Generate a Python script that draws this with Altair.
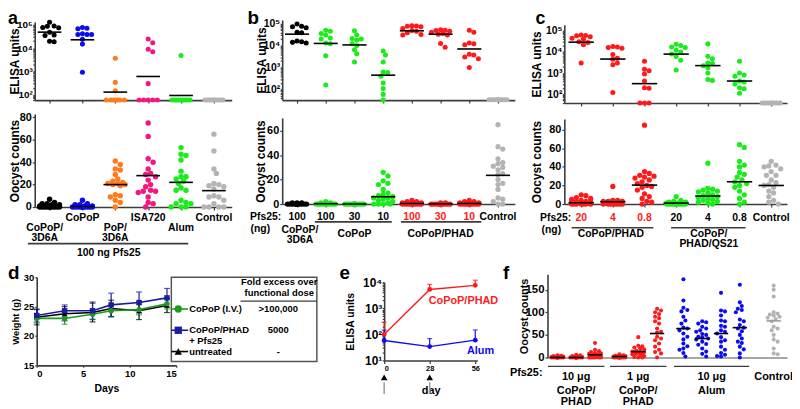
import math
import altair as alt
import pandas as pd

FONT = "Liberation Sans"
BLACK = "#000000"
BLUE = "#0c0cf0"
ORANGE = "#ff7b1c"
PINK = "#f2167e"
GREEN = "#1aeb1a"
GRAY = "#b3b3b3"
RED = "#ff1a1a"
D_GREEN = "#1f9a1f"
D_BLUE = "#1c1ca0"
AXC = "#3c3c3c"

# ---------------- panel a ----------------
A_XLABELS = ["CoPoP/\n3D6A", "CoPoP", "PoP/\n3D6A", "ISA720", "Alum", "Control"]
A_COLORS = [BLACK, BLUE, ORANGE, PINK, GREEN, GRAY]
A_ELISA = [
    [130000, 90000, 88000, 77000, 75000, 48000, 37000, 35000, 20000, 19000],
    [77000, 72000, 68000, 42000, 39000, 39000, 39000, 24000, 15000, 930],
    [3700, 340, 150, 59, 59, 59, 59, 59, 59, 59],
    [25000, 17000, 9000, 7000, 300, 59, 59, 59, 59, 59],
    [4900, 59, 59, 59, 59, 59, 59, 59, 59, 59],
    [59, 59, 59, 59, 59, 59, 59, 59, 59, 59],
]
A_ELISA_MEAN = [49000, 23000, 130, 610, 93, None]
A_OOCYST = [
    [7, 4, 3, 3, 2, 2, 1, 1, 1, 1, 0, 0, 0, 0, 0, 0, 0, 0, 0, 0],
    [6, 3, 2, 2, 1, 1, 1, 0, 0, 0, 0, 0, 0, 0, 0, 0, 0, 0, 0, 0],
    [41, 38, 34, 33, 29, 25, 23, 22, 21, 21, 20, 20, 19, 11, 10, 9, 6, 4, 0],
    [75, 63, 43, 40, 34, 30, 29, 27, 24, 20, 18, 15, 14, 14, 13, 9, 4, 3, 0],
    [53, 47, 46, 42, 32, 27, 27, 25, 23, 21, 17, 15, 15, 6, 4, 3, 3, 0, 0, 0],
    [65, 50, 34, 30, 21, 20, 19, 18, 16, 10, 9, 9, 6, 3, 0, 0, 0, 0],
]
A_OOCYST_MEAN = [1, 0.5, 20, 28, 22, 14.6]
A_FOOTER = "100 ng Pfs25"

# ---------------- panel b ----------------
B_DOSES = ["100", "100", "30", "10", "100", "30", "10", "Control"]
B_DOSE_COLORS = [BLACK, BLACK, BLACK, BLACK, RED, RED, RED, BLACK]
B_COLORS = [BLACK, GREEN, GREEN, GREEN, RED, RED, RED, GRAY]
B_ELISA = [
    [95000, 75000, 72000, 65000, 40000, 38000, 16000, 15000, 14000, 13000],
    [50000, 45000, 35000, 30000, 22000, 20000, 13000, 12000, 3400, 160],
    [47000, 30000, 21000, 20000, 18000, 12000, 10000, 6500, 4200, 1800],
    [5700, 3700, 1800, 630, 600, 400, 200, 110, 60, 33],
    [80000, 78000, 75000, 72000, 60000, 48000, 45000, 38000, 32000, 30000],
    [52000, 50000, 48000, 45000, 40000, 35000, 33000, 30000, 12500, 8300],
    [50000, 40000, 13000, 12000, 11000, 4000, 3700, 3000, 2500, 1000],
    [34, 34, 34, 34, 34, 34, 34, 34, 34, 34],
]
B_ELISA_MEAN = [33000, 12500, 10700, 450, 47000, 33000, 7000, None]
B_OOCYST = [
    [1, 1, 1, 0, 0, 0, 0, 0, 0, 0, 0, 0, 0, 0, 0, 0, 0, 0, 0, 0],
    [2, 1, 1, 0, 0, 0, 0, 0, 0, 0, 0, 0, 0, 0, 0, 0, 0, 0, 0, 0],
    [0, 0, 0, 0, 0, 0, 0, 0, 0, 0, 0, 0, 0, 0, 0, 0, 0, 0, 0, 0],
    [26, 23, 19, 17, 16, 12, 9, 8, 7, 6, 5, 5, 4, 3, 2, 1, 0, 0, 0, 0],
    [3, 2, 2, 1, 1, 1, 0, 0, 0, 0, 0, 0, 0, 0, 0, 0, 0, 0, 0, 0],
    [1, 1, 0, 0, 0, 0, 0, 0, 0, 0, 0, 0, 0, 0, 0, 0, 0, 0, 0, 0],
    [3, 2, 2, 1, 1, 0, 0, 0, 0, 0, 0, 0, 0, 0, 0, 0, 0, 0, 0, 0],
    [65, 47, 45, 37, 34, 33, 31, 30, 28, 25, 24, 20, 17, 16, 12, 5, 4, 2, 0, 0],
]
B_OOCYST_MEAN = [0.2, 0.3, 0, 6, 0.5, 0.2, 0.5, 23.5]

# ---------------- panel c ----------------
C_DOSES = ["20", "4", "0.8", "20", "4", "0.8", "Control"]
C_DOSE_COLORS = [RED, RED, RED, BLACK, BLACK, BLACK, BLACK]
C_COLORS = [RED, RED, RED, GREEN, GREEN, GREEN, GRAY]
C_ELISA = [
    [63000, 60000, 58000, 52000, 44000, 40000, 30000, 28000, 22000, 3000],
    [18000, 17000, 16000, 15000, 7500, 5000, 4500, 3000, 2500, 120],
    [3600, 1500, 1300, 900, 420, 200, 190, 38, 38, 38],
    [23000, 20000, 17000, 16000, 12000, 10000, 8000, 6000, 4000, 1400],
    [24000, 6200, 4800, 3000, 2800, 2200, 1800, 1000, 500, 450],
    [3600, 1000, 800, 700, 420, 380, 300, 200, 180, 110],
    [38, 38, 38, 38, 38, 38, 38, 38, 38, 38],
]
C_ELISA_MEAN = [29000, 4600, 316, 7900, 2250, 420, None]
C_OOCYST = [
    [10, 9, 7, 6, 5, 4, 3, 3, 2, 2, 1, 1, 1, 0, 0, 0, 0, 0, 0, 0],
    [19, 4, 4, 3, 3, 3, 2, 2, 2, 1, 1, 1, 0, 0, 0, 0, 0, 0, 0, 0],
    [85, 35, 33, 31, 30, 29, 28, 26, 24, 22, 20, 19, 18, 15, 11, 8, 6, 3, 2, 0],
    [8, 4, 3, 2, 2, 1, 1, 1, 0, 0, 0, 0, 0, 0, 0, 0, 0, 0, 0, 0],
    [44, 17, 16, 15, 14, 13, 12, 10, 9, 8, 7, 6, 5, 4, 3, 2, 1, 0],
    [64, 61, 46, 42, 40, 34, 32, 29, 26, 24, 22, 20, 18, 14, 10, 6, 2, 0],
    [46, 42, 41, 40, 38, 35, 31, 31, 26, 23, 21, 20, 18, 14, 12, 8, 4, 2, 0],
]
C_OOCYST_MEAN = [1.4, 2.5, 20.4, 1, 8.6, 24, 20]

# ---------------- panel d ----------------
D_DAYS = [0, 3, 6, 8, 11, 14]
D_NAMES = ["untreated", "CoPoP (I.V.)", "CoPoP/PHAD\n+ Pfs25"]
D_FOLD = ["-", ">100,000", "5000"]
D_COLORS = [BLACK, D_GREEN, D_BLUE]
D_SHAPES = ["triangle-up", "circle", "square"]
D_MEAN = [
    [23.2, 23.8, 24.0, 24.7, 24.3, 25.2],
    [23.0, 23.0, 23.7, 24.3, 24.5, 25.5],
    [23.5, 24.3, 24.3, 25.3, 25.7, 26.5],
]
D_SD = [
    [1.3, 1.2, 1.6, 1.4, 1.5, 1.2],
    [0.8, 1.0, 0.8, 1.0, 0.9, 0.9],
    [1.1, 1.0, 1.5, 2.0, 1.8, 1.6],
]
D_LEGEND_ORDER = [1, 2, 0]
D_HEADER = "Fold excess over\nfunctional dose"

# ---------------- panel e ----------------
E_DAYS = [0, 28, 56]
E_NAMES = ["CoPoP/PHAD", "Alum"]
E_COLORS = [RED, BLUE]
E_MEAN = [[100, 5300, 7600], [58, 34, 60]]
E_UPPER = [[290, 8300, 12000], [145, 69, 148]]
E_IMMUNIZATIONS = [0, 28]

# ---------------- panel f ----------------
F_CLUSTER = [0, 0, 0, 1, 1, 1, 2, 2, 2, 2, 3]
F_COLORS = [RED, RED, RED, RED, RED, RED, BLUE, BLUE, BLUE, BLUE, GRAY]
F_DOSE = ["10 μg", "1 μg", "10 μg", "Control"]
F_VACCINE = ["CoPoP/\nPHAD", "CoPoP/\nPHAD", "Alum", ""]
F_OOCYST = [
    [5, 4, 3, 2, 2, 1, 1, 1, 0, 0, 0, 0, 0, 0, 0, 0, 0, 0, 0, 0],
    [6, 5, 3, 2, 1, 1, 0, 0, 0, 0, 0, 0, 0, 0, 0, 0, 0, 0, 0, 0],
    [32, 17, 14, 12, 10, 9, 8, 7, 6, 5, 4, 3, 2, 1, 0, 0, 0, 0, 0, 0],
    [7, 5, 4, 3, 3, 2, 2, 1, 1, 0, 0, 0, 0, 0, 0, 0, 0, 0, 0, 0],
    [45, 26, 25, 22, 20, 18, 15, 13, 13, 12, 11, 10, 9, 8, 7, 5, 3, 1, 0, 0],
    [108, 104, 100, 96, 90, 87, 80, 75, 64, 57, 55, 46, 42, 38, 31, 24, 17, 12, 9, 0],
    [173, 126, 110, 105, 102, 90, 82, 75, 66, 64, 60, 53, 46, 40, 31, 25, 20, 17, 10, 2],
    [80, 78, 75, 68, 64, 60, 57, 52, 50, 46, 44, 42, 40, 35, 30, 28, 20, 13, 8, 2],
    [143, 104, 102, 93, 82, 80, 70, 68, 60, 57, 53, 45, 38, 35, 24, 17, 10, 6, 3, 2],
    [161, 122, 114, 108, 105, 100, 84, 80, 72, 66, 64, 58, 50, 42, 35, 32, 24, 18, 9, 0],
    [159, 150, 135, 100, 97, 95, 93, 90, 88, 85, 80, 68, 64, 60, 50, 40, 35, 20, 9, 7],
]
F_MEAN = [0, 0, 6, 2, 13, 53, 64, 42, 53, 66, 81]

# ================= geometry (page pixels) =================
OX, OY = 8, 8          # page margin = chart origin
W, H = 792, 401        # whole drawing area


def cx(p):
    return p - OX


def cy(p):
    return p - OY


# ================= helpers =================
def swarm(ys, d, maxw):
    n = len(ys)
    order = sorted(range(n), key=lambda i: (ys[i], i))
    step = d / 2.0
    cands = [0.0]
    k = 1
    while k * step <= maxw + 1e-9:
        cands += [k * step, -k * step]
        k += 1
    placed, offs = [], [0.0] * n
    for i in order:
        y = ys[i]
        best = None
        for c in cands:
            if all((c - px) ** 2 + (y - py) ** 2 >= d * d - 1e-9 for px, py in placed):
                best = c
                break
        if best is None:
            best = max(cands, key=lambda c: min((c - px) ** 2 + (y - py) ** 2 for px, py in placed))
        placed.append((best, y))
        offs[i] = best
    return offs


def ypix(dom, top, bottom, log):
    h = bottom - top
    if log:
        a, b = math.log10(dom[0]), math.log10(dom[1])
        return lambda v: h * (1 - (math.log10(v) - a) / (b - a))
    return lambda v: h * (1 - (v - dom[0]) / (dom[1] - dom[0]))


def xscale(dom, p0, p1):
    return alt.Scale(domain=list(dom), range=[cx(p0), cx(p1)], nice=False, zero=False)


def yscale(dom, top, bottom, log=False):
    if log:
        return alt.Scale(type="log", domain=list(dom), range=[cy(bottom), cy(top)], nice=False)
    return alt.Scale(domain=list(dom), range=[cy(bottom), cy(top)], nice=False, zero=False)


LOG_LABEL = (
    "abs(log(datum.value)/LN10 - round(log(datum.value)/LN10)) > 0.01 ? '' : "
    "'10' + (round(log(datum.value)/LN10) == 1 ? '¹' : round(log(datum.value)/LN10) == 2 ? '²' : "
    "round(log(datum.value)/LN10) == 3 ? '³' : round(log(datum.value)/LN10) == 4 ? '⁴' : '⁵')"
)


def log_yaxis(dom, title, tsize, tx, xpage, lsize=10.5):
    vals = []
    for k in range(0, 6):
        for m in range(1, 10):
            v = m * 10 ** k
            if dom[0] * 0.999 <= v <= dom[1] * 1.001:
                vals.append(v)
    return alt.Axis(orient="left", offset=-cx(xpage), values=vals, labelExpr=LOG_LABEL,
                    labelOverlap=False, tickSize=2, labelPadding=0.5, labelFontSize=lsize,
                    title=title, titleFontSize=tsize, titleX=tx, grid=False)


def lin_yaxis(vals, title, tsize, tx, xpage, lsize=11):
    return alt.Axis(orient="left", offset=-cx(xpage), values=vals, tickSize=2.5, labelPadding=1,
                    labelFontSize=lsize, title=title, titleFontSize=tsize, titleX=tx, grid=False,
                    labelOverlap=False)


def tick_xaxis(vals, ypage):
    return alt.Axis(orient="bottom", offset=cy(ypage) - H, values=list(vals), labels=False,
                    title=None, tickSize=3, grid=False)


def plain_xaxis(ypage):
    return alt.Axis(orient="bottom", offset=cy(ypage) - H, labels=False, ticks=False, title=None,
                    grid=False, domainColor="#8a8a8a")


def dot_layers(positions, groups, colors, means, half, xdom, xp, ydom, yp, log, size, dcol, maxw,
               yaxis, xaxis, mean_colors=None):
    pxu = (xp[1] - xp[0]) / (xdom[1] - xdom[0])
    yf = ypix(ydom, yp[0], yp[1], log)
    rows = []
    for p, vals, col in zip(positions, groups, colors):
        offs = swarm([yf(v) for v in vals], dcol, maxw)
        for v, o in zip(vals, offs):
            rows.append({"x": p + o / pxu, "v": v, "c": col})
    pdf = pd.DataFrame(rows)
    mc = mean_colors if mean_colors else [BLACK for _ in positions]
    ldf = pd.DataFrame([{"x1": p - half, "x2": p + half, "v": m, "lc": c}
                        for p, m, c in zip(positions, means, mc) if m is not None])
    xs = xscale(xdom, xp[0], xp[1])
    ys = yscale(ydom, yp[0], yp[1], log)
    pts = alt.Chart(pdf).mark_circle(size=size, opacity=1).encode(
        x=alt.X("x:Q", scale=xs, axis=xaxis),
        y=alt.Y("v:Q", scale=ys, axis=yaxis),
        color=alt.Color("c:N", scale=None))
    rl = alt.Chart(ldf).mark_rule(strokeWidth=1.6).encode(
        x="x1:Q", x2="x2:Q", y="v:Q", color=alt.Color("lc:N", scale=None))
    return [pts, rl]


def text_layer(xs, texts, colors, ypage, size, align="center", baseline="middle", dx=0):
    df = pd.DataFrame({"x": xs, "t": texts, "c": colors})
    return alt.Chart(df).mark_text(font=FONT, fontWeight="bold", fontSize=size, align=align,
                                   baseline=baseline, lineBreak="\n", lineHeight=size, dx=dx).encode(
        x="x:Q", y=alt.value(cy(ypage)), text="t:N", color=alt.Color("c:N", scale=None))


def rule_layer(x1s, x2s, ypage, color=AXC, width=1.6):
    df = pd.DataFrame({"x1": x1s, "x2": x2s})
    return alt.Chart(df).mark_rule(color=color, strokeWidth=width).encode(
        x="x1:Q", x2="x2:Q", y=alt.value(cy(ypage)))


def letter(ch, xpage, ypage, size=19):
    return alt.Chart(pd.DataFrame({"t": [ch]})).mark_text(
        font=FONT, fontWeight="bold", fontSize=size, align="left", baseline="alphabetic").encode(
        x=alt.value(cx(xpage)), y=alt.value(cy(ypage)), text="t:N")


def blacks(n):
    return [BLACK for _ in range(n)]


# ================= panel a =================
A_XP = (35, 234)
A_XDOM = [(35 - 50) / 33.2, (234 - 50) / 33.2]
A_EL_YP, A_EL_DOM = (20, 99), [10 ** 1.77, 10 ** 5.13]
A_OO_YP, A_OO_DOM = (113, 207), [0, 83]
pos_a = list(range(len(A_XLABELS)))
stagger = [1, 0, 1, 0, 1, 0]

a_el = alt.layer(*dot_layers(
    pos_a, A_ELISA, A_COLORS, A_ELISA_MEAN, 0.36, A_XDOM, A_XP, A_EL_DOM, A_EL_YP, True, 26, 4.6, 11,
    log_yaxis(A_EL_DOM, "ELISA units", 12, -13.5, A_XP[0], lsize=10), tick_xaxis(pos_a, A_EL_YP[1])))
a_oo = alt.layer(
    *dot_layers(pos_a, A_OOCYST, A_COLORS, A_OOCYST_MEAN, 0.36, A_XDOM, A_XP, A_OO_DOM, A_OO_YP, False,
                30, 5, 12, lin_yaxis([0, 20, 40, 60, 80], "Oocyst counts", 12, -13.5, A_XP[0]),
                tick_xaxis(pos_a, A_OO_YP[1])),
    text_layer([p for p, s in zip(pos_a, stagger) if s == 0],
               [t for t, s in zip(A_XLABELS, stagger) if s == 0], blacks(3), 212.75, 10.5, baseline="top"),
    text_layer([p - 0.15 * (p == 0) for p, s in zip(pos_a, stagger) if s == 1],
               [t for t, s in zip(A_XLABELS, stagger) if s == 1], blacks(3), 222.75, 10.5, baseline="top"),
    rule_layer([-0.66], [4.22], 244),
    text_layer([1.8], [A_FOOTER], blacks(1), 253, 10.5),
)

# ================= panel b =================
B_XP = (285, 520)
B_XDOM = [(285 - 300) / 29.0, (520 - 300) / 29.0]
B_EL_YP, B_EL_DOM = (18, 99), [10 ** 1.518, 10 ** 5.167]
B_OO_YP, B_OO_DOM = (117, 204), [0, 70.5]
pos_b = list(range(len(B_DOSES)))

b_el = alt.layer(*dot_layers(
    pos_b, B_ELISA, B_COLORS, B_ELISA_MEAN, 0.42, B_XDOM, B_XP, B_EL_DOM, B_EL_YP, True, 26, 4.6, 10.5,
    log_yaxis(B_EL_DOM, "ELISA units", 12, -14, B_XP[0]), tick_xaxis(pos_b, B_EL_YP[1])))
b_oo = alt.layer(
    *dot_layers(pos_b, B_OOCYST, B_COLORS, B_OOCYST_MEAN, 0.42, B_XDOM, B_XP, B_OO_DOM, B_OO_YP, False,
                28, 4.8, 10.5, lin_yaxis([0, 20, 40, 60], "Oocyst counts", 12, -15, B_XP[0]),
                tick_xaxis(pos_b, B_OO_YP[1])),
    text_layer(pos_b, B_DOSES, B_DOSE_COLORS, 217, 10.5),
    text_layer([B_XDOM[0]], ["Pfs25:"], blacks(1), 217, 10.5, align="right", dx=-1),
    text_layer([(253 - 300) / 29.0], ["(ng)"], blacks(1), 229, 10.5, align="left"),
    rule_layer([1 - 0.38, 4 - 0.38], [3 + 0.3, 6 + 0.42], 222),
    text_layer([0.1], ["CoPoP/\n3D6A"], blacks(1), 224.75, 10.5, baseline="top"),
    text_layer([2, 5], ["CoPoP", "CoPoP/PHAD"], blacks(2), 234, 10.5),
)

# ================= panel c =================
C_XP = (570, 795)
C_XDOM = [(570 - 587) / 32.0, (795 - 587) / 32.0]
C_EL_YP, C_EL_DOM = (23, 102), [10 ** 1.58, 10 ** 5.28]
C_OO_YP, C_OO_DOM = (118, 204), [0, 91.7]
pos_c = list(range(len(C_DOSES)))

c_el = alt.layer(*dot_layers(
    pos_c, C_ELISA, C_COLORS, C_ELISA_MEAN, 0.4, C_XDOM, C_XP, C_EL_DOM, C_EL_YP, True, 26, 4.6, 11,
    log_yaxis(C_EL_DOM, "ELISA units", 12, -21.5, C_XP[0]), tick_xaxis(pos_c, C_EL_YP[1])))
c_oo = alt.layer(
    *dot_layers(pos_c, C_OOCYST, C_COLORS, C_OOCYST_MEAN, 0.4, C_XDOM, C_XP, C_OO_DOM, C_OO_YP, False,
                28, 4.8, 11, lin_yaxis([0, 20, 40, 60, 80], "Oocyst counts", 12, -21.5, C_XP[0]),
                tick_xaxis(pos_c, C_OO_YP[1])),
    text_layer(pos_c, C_DOSES, C_DOSE_COLORS, 218, 10.5),
    text_layer([(577 - 587) / 32.0], ["Pfs25:"], blacks(1), 218, 10.5, align="right"),
    text_layer([(547 - 587) / 32.0], ["(ng)"], blacks(1), 230, 10.5, align="left"),
    rule_layer([0 - 0.3, 3 - 0.16], [2 + 0.28, 5 + 0.19], 228),
    text_layer([0.94, 4.03], ["CoPoP/PHAD", "CoPoP/\nPHAD/QS21"], blacks(2), 229, 10.5, baseline="top"),
)

# ================= panel d =================
D_XP, D_YP = (37, 178), (278, 367)
drows = []
for s in range(3):
    for day, m, sd in zip(D_DAYS, D_MEAN[s], D_SD[s]):
        drows.append({"day": day, "w": m, "lo": m - sd, "hi": m + sd, "s": D_NAMES[s],
                      "col": D_COLORS[s], "shp": D_SHAPES[s]})
ddf = pd.DataFrame(drows)
dxs = xscale([0, 15], *D_XP)
dys = yscale([15, 30], *D_YP)
dbase = alt.Chart(ddf)
d_chart = alt.layer(
    dbase.mark_rule(strokeWidth=1.2).encode(
        x=alt.X("day:Q", scale=dxs, axis=alt.Axis(
            orient="bottom", offset=cy(D_YP[1]) - H, values=[0, 5, 10, 15], tickSize=2, labelPadding=1,
            labelFontSize=9.5, title="Days", titleFontSize=10.5, titleY=18.5, grid=False)),
        y=alt.Y("lo:Q", scale=dys, axis=alt.Axis(
            orient="left", offset=-cx(D_XP[0]), values=[15, 20, 25, 30], tickSize=2, labelPadding=1,
            labelFontSize=9.5, title="Weight (g)", titleFontSize=9.5, titleX=-16.5, grid=False)),
        y2="hi:Q", color=alt.Color("col:N", scale=None)),
    dbase.mark_tick(orient="horizontal", size=6, thickness=1.2).encode(
        x="day:Q", y="hi:Q", color=alt.Color("col:N", scale=None)),
    dbase.mark_tick(orient="horizontal", size=6, thickness=1.2).encode(
        x="day:Q", y="lo:Q", color=alt.Color("col:N", scale=None)),
    dbase.mark_line(strokeWidth=1.6).encode(
        x="day:Q", y="w:Q", color=alt.Color("col:N", scale=None), detail="s:N"),
    dbase.mark_point(filled=True, size=30, opacity=1).encode(
        x="day:Q", y="w:Q", color=alt.Color("col:N", scale=None), shape=alt.Shape("shp:N", scale=None)),
)

# legend table of panel d
ldf = pd.DataFrame({
    "row": list(range(3)),
    "label": [D_NAMES[i] for i in D_LEGEND_ORDER],
    "fold": [D_FOLD[i] for i in D_LEGEND_ORDER],
    "col": [D_COLORS[i] for i in D_LEGEND_ORDER],
    "shp": [D_SHAPES[i] for i in D_LEGEND_ORDER],
})
lys = alt.Scale(domain=[0, 2], range=[cy(310), cy(353)], nice=False, zero=False)
lbase = alt.Chart(ldf)
one = pd.DataFrame({"z": [0]})
legend = alt.layer(
    alt.Chart(one).mark_rect(fillOpacity=0, stroke="#555555", strokeWidth=1.5).encode(
        x=alt.value(cx(173)), x2=alt.value(cx(320)), y=alt.value(cy(278)), y2=alt.value(cy(363))),
    alt.Chart(pd.DataFrame({"t": [D_HEADER]})).mark_text(
        font=FONT, fontWeight="bold", fontSize=9.5, lineBreak="\n", lineHeight=10.5, baseline="top").encode(
        x=alt.value(cx(282)), y=alt.value(cy(278)), text="t:N"),
    alt.Chart(one).mark_rule(color=AXC, strokeWidth=1.2).encode(
        x=alt.value(cx(243)), x2=alt.value(cx(320)), y=alt.value(cy(302))),
    lbase.mark_rule(strokeWidth=1.6).encode(
        x=alt.value(cx(173)), x2=alt.value(cx(190)), y=alt.Y("row:Q", scale=lys, axis=None),
        color=alt.Color("col:N", scale=None)),
    lbase.mark_point(filled=True, size=55, opacity=1).encode(
        x=alt.value(cx(180)), y=alt.Y("row:Q", scale=lys, axis=None),
        color=alt.Color("col:N", scale=None), shape=alt.Shape("shp:N", scale=None)),
    lbase.mark_text(font=FONT, fontWeight="bold", fontSize=9.5, align="left", lineBreak="\n",
                    lineHeight=10.5).encode(
        x=alt.value(cx(191)), y=alt.Y("row:Q", scale=lys, axis=None), text="label:N"),
    lbase.mark_text(font=FONT, fontWeight="bold", fontSize=9.5, align="center").encode(
        x=alt.value(cx(281)), y=alt.Y("row:Q", scale=lys, axis=None), text="fold:N"),
)

# ================= panel e =================
E_XP, E_YP = (388, 482), (283, 362)
erows = []
for s in range(2):
    for day, m, u in zip(E_DAYS, E_MEAN[s], E_UPPER[s]):
        erows.append({"day": day, "v": m, "up": u, "s": E_NAMES[s], "col": E_COLORS[s]})
edf = pd.DataFrame(erows)
exs = xscale([0, 57.2], *E_XP)
eys = yscale([10, 10000], *E_YP, log=True)
ebase = alt.Chart(edf)
e_chart = alt.layer(
    ebase.mark_rule(strokeWidth=1.2).encode(
        x=alt.X("day:Q", scale=exs, axis=alt.Axis(
            orient="bottom", offset=cy(E_YP[1]) - H, values=E_DAYS, tickSize=3, labelPadding=1,
            labelFontSize=7.5, title="day", titleFontSize=11, titleY=24.5, grid=False)),
        y=alt.Y("v:Q", scale=eys, axis=log_yaxis([10, 10000], "ELISA units", 10.5, -28.8, E_XP[0], lsize=12)),
        y2="up:Q", color=alt.Color("col:N", scale=None)),
    ebase.mark_tick(orient="horizontal", size=5, thickness=1.2).encode(
        x="day:Q", y="up:Q", color=alt.Color("col:N", scale=None)),
    ebase.mark_line(strokeWidth=1.4).encode(
        x="day:Q", y="v:Q", color=alt.Color("col:N", scale=None), detail="s:N"),
    ebase.mark_circle(size=24, opacity=1).encode(
        x="day:Q", y="v:Q", color=alt.Color("col:N", scale=None)),
    alt.Chart(pd.DataFrame({"day": [28], "v": [1900], "t": [E_NAMES[0]]})).mark_text(
        font=FONT, fontWeight="bold", fontSize=11, align="left", dx=-1, color=RED).encode(
        x="day:Q", y="v:Q", text="t:N"),
    alt.Chart(pd.DataFrame({"day": [56], "v": [22], "t": [E_NAMES[1]]})).mark_text(
        font=FONT, fontWeight="bold", fontSize=11, align="right", dx=19, color=BLUE).encode(
        x="day:Q", y="v:Q", text="t:N"),
    alt.Chart(pd.DataFrame({"day": E_IMMUNIZATIONS})).mark_point(
        shape="triangle-up", filled=True, size=45, color=BLACK, opacity=1).encode(
        x="day:Q", y=alt.value(cy(379))),
    alt.Chart(pd.DataFrame({"day": E_IMMUNIZATIONS})).mark_rule(color="#9a9a9a", strokeWidth=1.5).encode(
        x="day:Q", y=alt.value(cy(384)), y2=alt.value(cy(396))),
)

# ================= panel f =================
F_XP, F_YP = (553, 795), (275, 359)
F_GAP = [0, 0.3, 0.7, 1.5]
pos_f = [i + F_GAP[c] for i, c in enumerate(F_CLUSTER)]
F_XDOM = [(553 - 563) / 19.0, (795 - 563) / 19.0]
F_DOM = [0, 184]
ncl = len(F_DOSE)
cl_min = [min(p for p, c in zip(pos_f, F_CLUSTER) if c == k) for k in range(ncl)]
cl_max = [max(p for p, c in zip(pos_f, F_CLUSTER) if c == k) for k in range(ncl)]
cl_mid = [(a + b) / 2 for a, b in zip(cl_min, cl_max)]
f_mean_colors = [BLACK if c < 3 else "#9a9a9a" for c in F_CLUSTER]
f_chart = alt.layer(
    *dot_layers(pos_f, F_OOCYST, F_COLORS, F_MEAN, 0.38, F_XDOM, F_XP, F_DOM, F_YP, False,
                17, 4.0, 7.5, lin_yaxis([0, 50, 100, 150], "Oocyst counts", 11, -17.7, F_XP[0], lsize=11.5),
                plain_xaxis(F_YP[1]), mean_colors=f_mean_colors),
    rule_layer([m - 0.5 for m in cl_min[:3]], [m + 0.5 for m in cl_max[:3]], 368, width=1.4),
    text_layer([(548 - 563) / 19.0], ["Pfs25:"], blacks(1), 375, 11, align="right"),
    text_layer(cl_mid, F_DOSE, blacks(ncl), 379, 11),
    text_layer(cl_mid[:3], F_VACCINE[:3], blacks(3), 387, 11, baseline="top"),
)

letters = [letter("a", 8, 22, 18), letter("b", 250, 22), letter("c", 541, 22, 18),
           letter("d", 8, 280), letter("e", 343, 280), letter("f", 508, 280)]

chart = alt.layer(a_el, a_oo, b_el, b_oo, c_el, c_oo, d_chart, legend, e_chart, f_chart, *letters).resolve_scale(
    x="independent", y="independent").resolve_axis(x="independent", y="independent").properties(
    width=W, height=H, padding=0, autosize=alt.AutoSizeParams(type="none"))

chart = chart.configure(font=FONT).configure_view(stroke=None).configure_axis(
    labelFont=FONT, titleFont=FONT, labelFontWeight="bold", titleFontWeight="bold",
    labelColor="black", titleColor="black", domainColor=AXC, tickColor=AXC,
    domainWidth=1.6, tickWidth=1.2, grid=False)

chart.save("out.html", embed_options={"renderer": "svg", "actions": False})
